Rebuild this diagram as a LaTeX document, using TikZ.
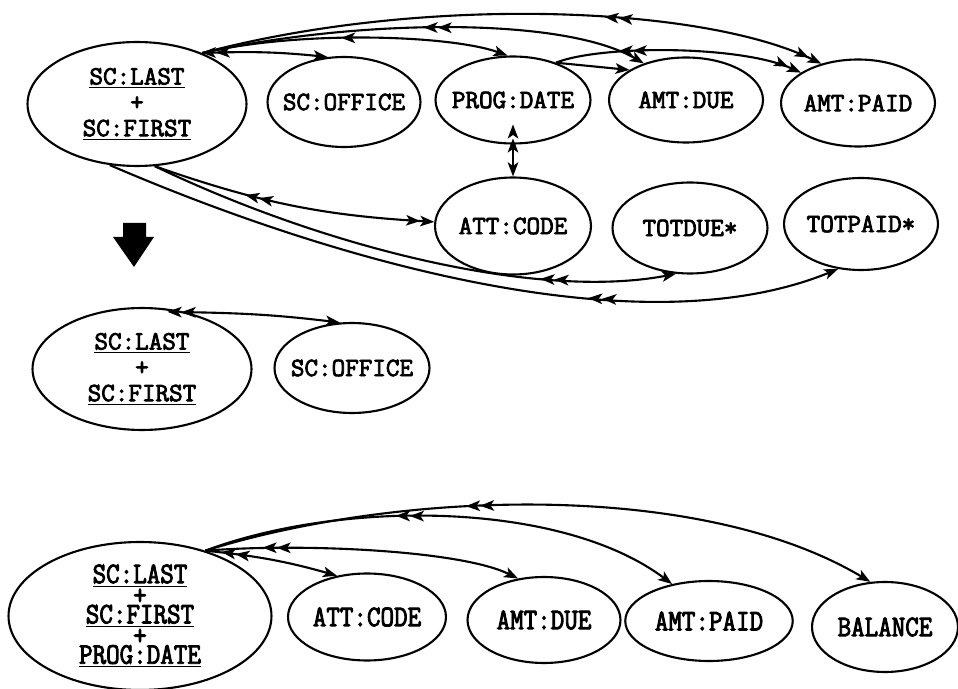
\documentclass[tikz,border=0pt]{standalone}
\usepackage{fontspec}
\usetikzlibrary{shapes.geometric,arrows.meta,decorations.markings}

\newfontfamily\attrfont[FakeBold=3]{Latin Modern Mono}
\newfontfamily\tallfont[FakeBold=3, FakeStretch=0.88]{Latin Modern Mono}

\begin{document}
\begin{tikzpicture}[
  x = 0.02cm, y = -0.02cm,
  line width = 1.2pt,
  >= {Stealth[length = 8pt, width = 6pt, inset = 2pt]},
  attr/.style 2 args = {draw, ellipse, align = center, inner xsep = -0.2cm,
    inner ysep = 0pt, minimum width = #1cm, minimum height = #2cm,
    font = \attrfont\fontsize{15}{14.7}\selectfont},
  tall/.style = {font = \tallfont\fontsize{17}{10.8}\selectfont},
  many/.style = {postaction = {decorate}, decoration = {markings,
    mark = at position #1 with {\arrow{<<}}}},
  one/.style = {postaction = {decorate}, decoration = {markings,
    mark = at position #1 with {\arrow{<}}}},
  ]
  \useasboundingbox (0,0) rectangle (958,689);

  % before
  \node[attr = {4.38}{2.48}] (sc) at (137,104)
    {\underline{SC:LAST}\\+\\\underline{SC:FIRST}};
  \node[attr = {3.06}{1.8}] (off) at (344,102) {SC:OFFICE};
  \node[attr = {3.1}{1.74}] (prog) at (513,100) {PROG:DATE};
  \node[attr = {3.08}{1.7}] (due) at (686,100) {AMT:DUE};
  \node[attr = {3.08}{1.74}] (paid) at (858,103) {AMT:PAID};
  \node[attr = {3.12}{1.94}] (att) at (513,226) {ATT:CODE};
  \node[attr = {3.1}{1.82}] (totdue) at (690,228) {TOTDUE*};
  \node[attr = {3.08}{1.84}] (totpaid) at (861,224) {TOTPAID*};

  \draw[->, many = 0.22] (sc.38) to[bend left = 4] (off.110);
  \draw[->, one = 0.5] (sc.38) .. controls (300,30) and (450,35) .. (prog.97);
  \draw[->, many = 0.56] (sc.38) .. controls (350,20) and (560,15) .. (due.139);
  \draw[->>, many = 0.69] (sc.38) .. controls (420,-5) and (700,5) .. (paid.133);
  \draw[->] (prog.41) -- (due.152);
  \draw[->>, many = 0.37] (prog.41) .. controls (600,45) and (740,45) .. (paid.152);
  \draw[->, many = 0.25] (prog.south) -- (att.north);
  \draw[->>, many = 0.43] (sc.-74) to[bend right = 8] (att.177);
  \draw[->, many = 0.8] (sc.-74) .. controls (330,250) and (540,300) .. (totdue.253);
  \draw[->, many = 0.7] (sc.246) .. controls (330,260) and (640,350) .. (totpaid.243);

  \fill (123,223) -- (146,223) -- (146,237) -- (154,237) -- (134,267)
    -- (113,237) -- (123,237) -- cycle;

  % after
  \node[attr = {4.38}{2.44}] (sc2) at (142,369)
    {\underline{SC:LAST}\\+\\\underline{SC:FIRST}};
  \node[attr = {3.1}{1.8}] (off2) at (352,368) {SC:OFFICE};

  \draw[->, many = 0.06] (sc2.52) to[bend left = 3] (off2.105);

  \node[attr = {5.26}{2.96}, tall] (sc3) at (140,616)
    {\underline{SC:LAST}\\+\\\underline{SC:FIRST}\\+\\\underline{PROG:DATE}};
  \node[attr = {3.16}{1.74}, tall] (att3) at (367,617) {ATT:CODE};
  \node[attr = {3.06}{1.72}, tall] (due3) at (544,620) {AMT:DUE};
  \node[attr = {3.35}{1.6}, tall] (paid3) at (709,621) {AMT:PAID};
  \node[attr = {2.92}{1.8}, tall] (bal) at (885,627) {BALANCE};

  \draw[->, many = 0.33] (sc3.45) to[bend left = 5] (att3.126);
  \draw[->, many = 0.27] (sc3.45) .. controls (300,543) and (460,550) .. (due3.122);
  \draw[->, many = 0.46] (sc3.45) .. controls (340,500) and (560,500) .. (paid3.135);
  \draw[->, many = 0.43] (sc3.45) .. controls (400,490) and (700,480) .. (bal.108);
\end{tikzpicture}
\end{document}
